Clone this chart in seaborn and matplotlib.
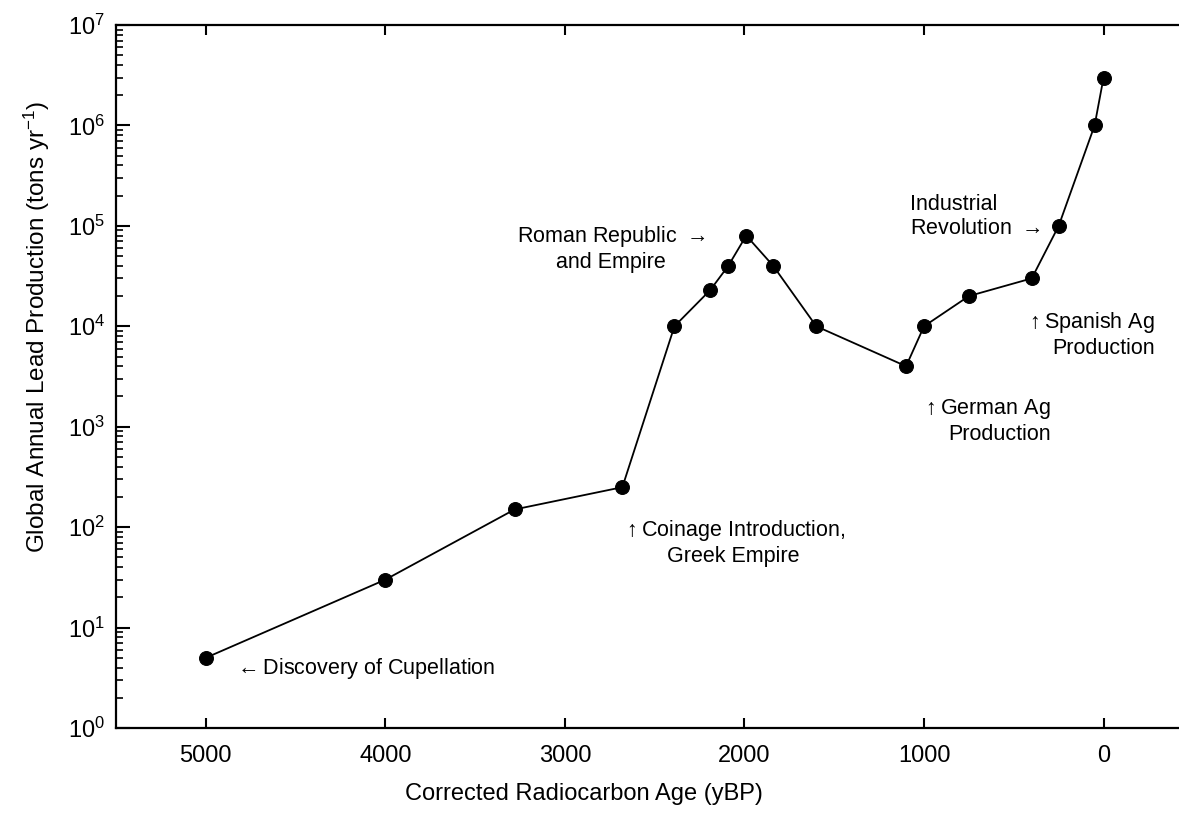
import matplotlib
matplotlib.use("Agg")
import matplotlib.pyplot as plt
import seaborn as sns
import pandas as pd
from matplotlib.ticker import LogLocator, FixedLocator

# ---- data ----
age_ybp = [5000, 4000, 3280, 2680, 2390, 2190, 2090, 1990, 1840, 1600, 1100, 1000, 750, 400, 250, 50, 0]
lead_production = [5, 30, 150, 250, 1e4, 2.3e4, 4e4, 8e4, 4e4, 1e4, 4e3, 1e4, 2e4, 3e4, 1e5, 1e6, 3e6]
x_ticks = [5000, 4000, 3000, 2000, 1000, 0]

sns.set_theme(style="white")
plt.rcParams['font.family'] = ['Liberation Sans', 'DejaVu Sans']
plt.rcParams['mathtext.fontset'] = 'custom'
plt.rcParams['mathtext.rm'] = 'Liberation Sans'
plt.rcParams['mathtext.it'] = 'Liberation Sans:italic'
plt.rcParams['mathtext.bf'] = 'Liberation Sans:bold'
plt.rcParams['mathtext.default'] = 'regular'
for k in ['text.color', 'axes.labelcolor', 'xtick.color', 'ytick.color']:
    plt.rcParams[k] = 'black'

df = pd.DataFrame({"age": age_ybp, "prod": lead_production})

fig = plt.figure(figsize=(11.79, 8.15), dpi=100)
ax = fig.add_axes([116/1179, 87/815, 1 - 116/1179, (728-25)/815])

sns.lineplot(data=df, x="age", y="prod", ax=ax, color="black", linewidth=1.3,
             marker="o", markersize=10, markeredgecolor="black", markerfacecolor="black",
             sort=False, estimator=None)

ax.set_yscale("log")
ax.set_ylim(1, 1e7)
ax.set_xlim(5500, -420)
ax.xaxis.set_major_locator(FixedLocator(x_ticks))
ax.yaxis.set_major_locator(LogLocator(base=10, numticks=10))
ax.yaxis.set_minor_locator(LogLocator(base=10, subs=range(2, 10), numticks=20))

for s in ["left", "bottom", "top"]:
    ax.spines[s].set_color("black")
    ax.spines[s].set_linewidth(1.6)
ax.spines["right"].set_visible(False)

ax.tick_params(axis="x", which="major", direction="in", length=7, width=1.5,
               top=True, bottom=True, labelsize=17, pad=12)
ax.tick_params(axis="y", which="major", direction="in", length=10, width=1.5,
               left=True, right=False, labelsize=17, pad=8)
ax.tick_params(axis="y", which="minor", direction="in", length=5, width=1.2,
               left=True, right=False)

ax.set_xlabel("Corrected Radiocarbon Age (yBP)", fontsize=17)
ax.set_ylabel(r"Global Annual Lead Production (tons yr$^{-1}$)", fontsize=17.5)
ax.xaxis.set_label_coords(0.44, -0.078)
ax.yaxis.set_label_coords(-0.060, 0.57)

fs = 15.5
ls = 1.2
common = dict(fontsize=fs, math_fontfamily="dejavusans", linespacing=ls)
ax.text(4850, 3.9, r"$\leftarrow$Discovery of Cupellation", ha="left", va="center", **common)
ax.text(2060, 70, "$\\uparrow$Coinage Introduction,\nGreek Empire", ha="center", va="center",
        multialignment="center", **common)
ax.text(2745, 6.0e4, "Roman Republic $\\rightarrow$\nand Empire", ha="center", va="center",
        multialignment="center", **common)
ax.text(1080, 1.25e5, "Industrial\nRevolution $\\rightarrow$", ha="left", va="center",
        multialignment="left", **common)
ax.text(-284, 8.3e3, "$\\uparrow$Spanish Ag\nProduction", ha="right", va="center",
        multialignment="right", **common)
ax.text(295, 1.15e3, "$\\uparrow$German Ag\nProduction", ha="right", va="center",
        multialignment="right", **common)

fig.savefig("out.png", dpi=100, facecolor="white")
